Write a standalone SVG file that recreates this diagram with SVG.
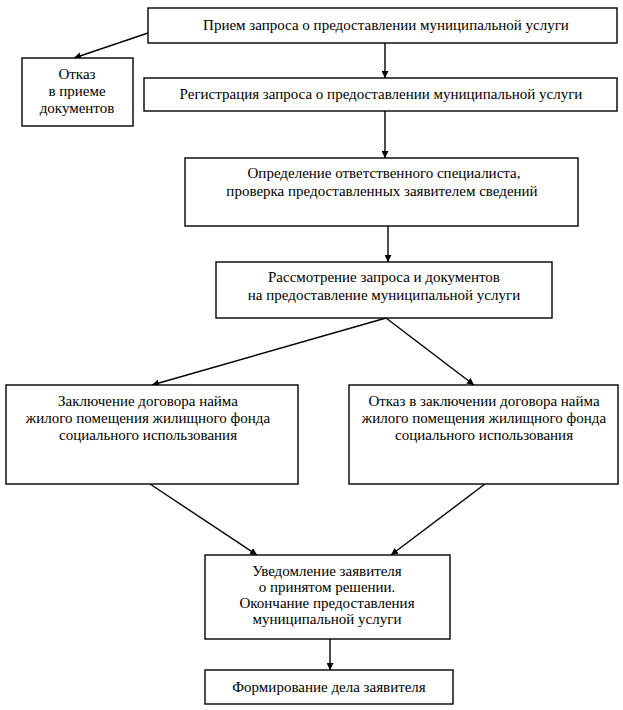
<svg xmlns="http://www.w3.org/2000/svg" width="623" height="710" viewBox="0 0 623 710">
<style>
.box{fill:#fff;stroke:#000;stroke-width:1.4}
.t{font-family:"Liberation Serif","Times New Roman","DejaVu Serif",serif;font-size:15px;fill:#000;text-anchor:middle}
.c{stroke:#000;stroke-width:1.4;fill:none;marker-end:url(#ah)}
</style>
<defs>
<marker id="ah" viewBox="0 0 10 10" refX="10" refY="5" markerWidth="7" markerHeight="7" markerUnits="userSpaceOnUse" orient="auto">
<path d="M0,0 L10,5 L0,10 z" fill="#000"/>
</marker>
</defs>
<rect width="623" height="710" fill="#fff"/>
<g id="connectors">
<line class="c" x1="385" y1="43" x2="385" y2="78"/>
<line class="c" x1="148" y1="33" x2="74" y2="58"/>
<line class="c" x1="385" y1="111" x2="385" y2="158"/>
<line class="c" x1="388" y1="226" x2="388" y2="262"/>
<line class="c" x1="386" y1="318" x2="152" y2="385"/>
<line class="c" x1="386" y1="318" x2="474" y2="385"/>
<line class="c" x1="150" y1="484" x2="257" y2="555"/>
<line class="c" x1="485" y1="484" x2="391" y2="555"/>
<line class="c" x1="330" y1="639" x2="330" y2="670"/>
</g>
<g id="n1"><rect class="box" x="148" y="8" width="469" height="35"/><text class="t" x="386" y="30">Прием запроса о предоставлении муниципальной услуги</text></g>
<g id="n2"><rect class="box" x="22" y="58" width="111" height="68"/><text class="t" x="77" y="79">Отказ</text><text class="t" x="77" y="96">в приеме</text><text class="t" x="77" y="113">документов</text></g>
<g id="n3"><rect class="box" x="144" y="78" width="473" height="33"/><text class="t" x="381" y="99">Регистрация запроса о предоставлении муниципальной услуги</text></g>
<g id="n4"><rect class="box" x="185" y="158" width="393" height="68"/><text class="t" x="384" y="178">Определение ответственного специалиста,</text><text class="t" x="382" y="196">проверка предоставленных заявителем сведений</text></g>
<g id="n5"><rect class="box" x="216" y="262" width="336" height="56"/><text class="t" x="384" y="282">Рассмотрение запроса и документов</text><text class="t" x="384" y="300">на предоставление муниципальной услуги</text></g>
<g id="n6"><rect class="box" x="6" y="385" width="292" height="99"/><text class="t" x="148" y="406">Заключение договора найма</text><text class="t" x="148" y="423">жилого помещения жилищного фонда</text><text class="t" x="148" y="440">социального использования</text></g>
<g id="n7"><rect class="box" x="349" y="385" width="269" height="99"/><text class="t" x="484" y="406">Отказ в заключении договора найма</text><text class="t" x="484" y="423">жилого помещения жилищного фонда</text><text class="t" x="484" y="440">социального использования</text></g>
<g id="n8"><rect class="box" x="205" y="555" width="245" height="84"/><text class="t" x="327" y="576">Уведомление заявителя</text><text class="t" x="327" y="592">о принятом решении.</text><text class="t" x="327" y="608">Окончание предоставления</text><text class="t" x="327" y="624">муниципальной услуги</text></g>
<g id="n9"><rect class="box" x="205" y="670" width="248" height="34"/><text class="t" x="329" y="692">Формирование дела заявителя</text></g>
</svg>
